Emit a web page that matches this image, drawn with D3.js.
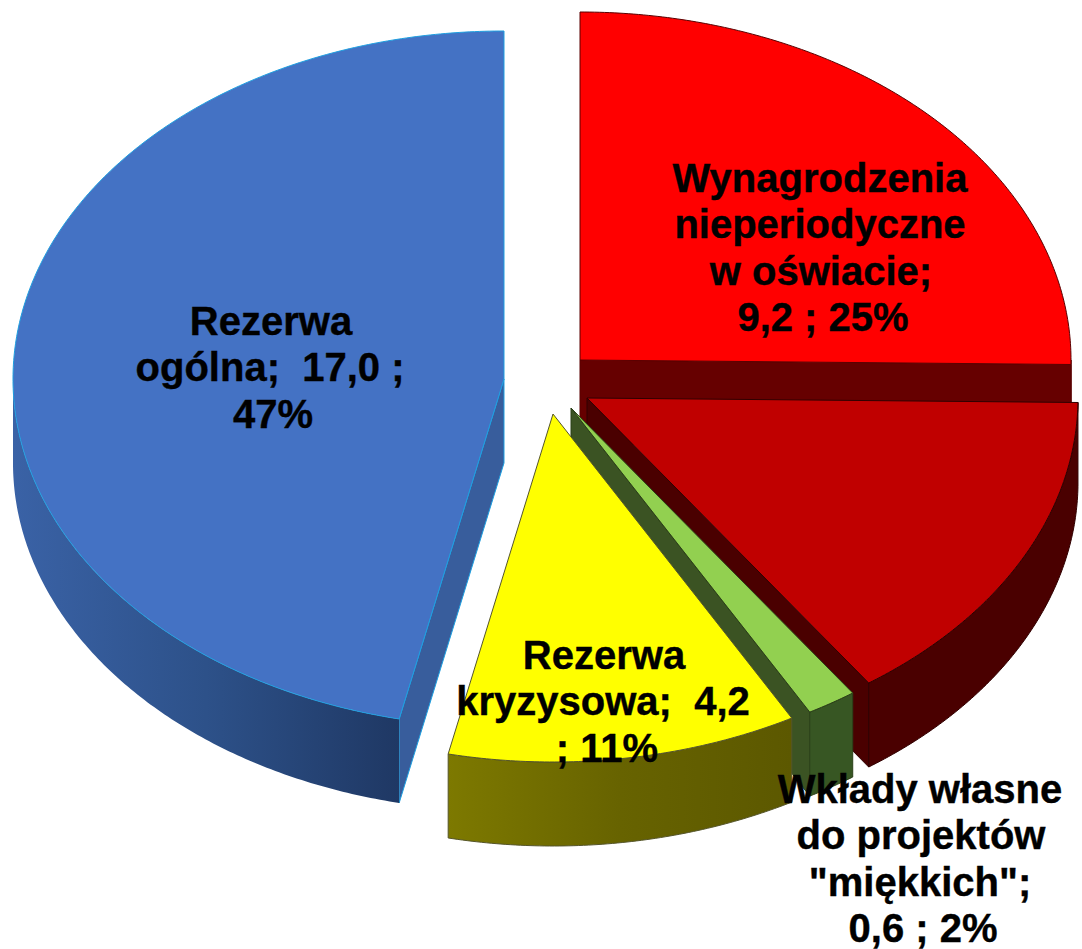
<!DOCTYPE html>
<html><head><meta charset="utf-8">
<script src="https://cdn.jsdelivr.net/npm/d3@7/dist/d3.min.js"></script>
<style>html,body{margin:0;padding:0;background:#fff}svg{display:block}</style>
</head><body><svg id="c" width="1082" height="949"></svg>
<script>
// data
const categories = ["Wynagrodzenia nieperiodyczne w oświacie", "Unlabelled", "Wkłady własne do projektów \"miękkich\"", "Rezerwa kryzysowa", "Rezerwa ogólna"];
const values = [9.2, 5.5, 0.6, 4.2, 17.0];
const labelLines = [
  ["Wynagrodzenia", "nieperiodyczne", "w oświacie;", "9,2 ; 25%"],
  [],
  ["Wkłady własne", "do projektów", "\"miękkich\";", "0,6 ; 2%"],
  ["Rezerwa", "kryzysowa;  4,2", "; 11%"],
  ["Rezerwa", "ogólna;  17,0 ;", "47%"]
];
// layout & style
const apex = [[580,360],[587,398],[571,408],[553,414],[504,379]];
const topCol = ["#ff0000","#c00000","#92d050","#ffff00","#4472c4"];
const cutCol = ["#660000","#4a0000","#3b5323","#6b6b00","#385d9c"];
const wallFrom = ["#660000","#4a0000","#375623","#7d7900","#3a62a6"];
const wallMid = ["#660000","#4a0000","#375623","#676300","#2d5189"];
const wallTo = ["#660000","#4a0000","#375623","#5c5800","#1f3864"];
const edgeCol = ["#5a0000","#300000","#2b4019","#55552a","#1e9fe0"];
const labelPos = [[820,192],null,[920,803],[604,669],[271,335]];
const lineShift = [[0,0,1,3],[],[0,1,0,3],[0,-1,3],[0,-1,2]];
const lineGap = 46.3, depth = 84, Rx = 491, Ry = 348;

const svg = d3.select("#c");
const defs = svg.append("defs");
const ux = d3.scaleLinear().domain([-1,1]).range([-Rx,Rx]);
const uy = d3.scaleLinear().domain([-1,1]).range([-Ry,Ry]);
const arcs = d3.pie().sort(null).value(d=>d)(values);
const pt = (i,a,dz=0)=>[apex[i][0]+ux(Math.sin(a)), apex[i][1]+uy(-Math.cos(a))+dz];
const line = d3.line();
const sweep = (a0,a1)=>{const n=Math.max(2,Math.ceil((a1-a0)/0.01));return d3.range(n+1).map(k=>a0+(a1-a0)*k/n);};

arcs.forEach((s,i)=>{
  const a0=s.startAngle,a1=s.endAngle,g=svg.append("g");
  const A=apex[i],Ab=[A[0],A[1]+depth];
  const face=a=>{
    const p=pt(i,a),q=pt(i,a,depth);
    g.append("path").attr("d",line([A,p,q,Ab])+"Z").attr("fill",cutCol[i]).attr("stroke",edgeCol[i]).attr("stroke-width",1);
  };
  if(Math.cos(a0-Math.PI/2)<0) face(a0);
  if(Math.cos(a1+Math.PI/2)<0) face(a1);
  const w0=Math.max(a0,Math.PI/2),w1=Math.min(a1,3*Math.PI/2);
  if(w1>w0){
    const id="w"+i,ps=sweep(w0,w1);
    const top=ps.map(a=>pt(i,a)),bot=ps.map(a=>pt(i,a,depth)).reverse();
    const xs=top.map(d=>d[0]);
    const lg=defs.append("linearGradient").attr("id",id).attr("gradientUnits","userSpaceOnUse")
      .attr("x1",d3.min(xs)).attr("x2",d3.max(xs)).attr("y1",0).attr("y2",0);
    lg.append("stop").attr("offset",0).attr("stop-color",wallFrom[i]);
    lg.append("stop").attr("offset",0.5).attr("stop-color",wallMid[i]);
    lg.append("stop").attr("offset",1).attr("stop-color",wallTo[i]);
    g.append("path").attr("d",line(top.concat(bot))+"Z").attr("fill",`url(#${id})`)
      .attr("stroke",i===4?"none":edgeCol[i]).attr("stroke-width",1);
  }
  const rim=sweep(a0,a1).map(a=>pt(i,a));
  g.append("path").attr("d",line([A].concat(rim))+"Z").attr("fill",topCol[i])
    .attr("stroke",edgeCol[i]).attr("stroke-width",1).attr("stroke-linejoin","round");
});

labelLines.forEach((ls,i)=>{
  if(!ls.length) return;
  const t=svg.append("text").attr("text-anchor","middle").attr("font-family","Liberation Sans, Arial, sans-serif")
    .attr("font-weight",700).attr("font-size",40).attr("fill","#000").attr("stroke","#000").attr("stroke-width",0.4)
    .attr("xml:space","preserve").style("white-space","pre");
  ls.forEach((l,k)=>t.append("tspan").attr("x",labelPos[i][0]+lineShift[i][k]).attr("y",labelPos[i][1]+k*lineGap).text(l));
});
</script></body></html>
